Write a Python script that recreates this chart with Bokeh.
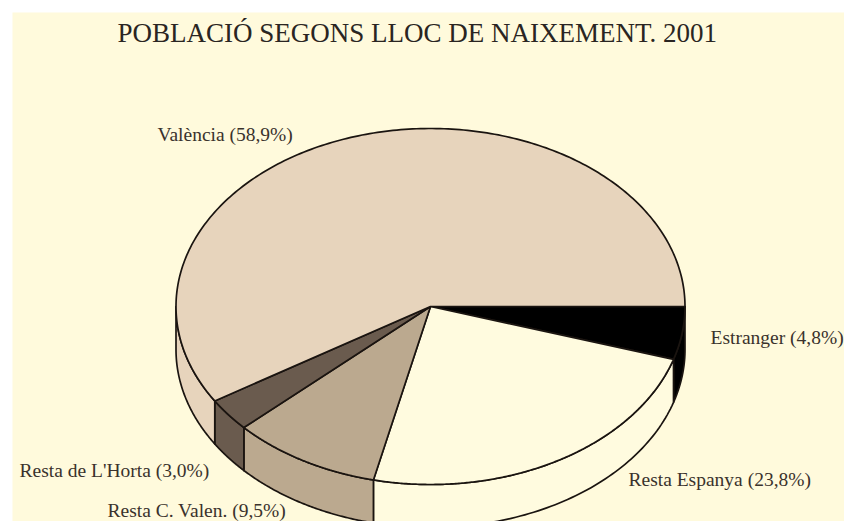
import numpy as np
from bokeh.plotting import figure
from bokeh.models import Range1d, ColumnDataSource
from bokeh.core.properties import value
from bokeh.embed import file_html
from bokeh.resources import INLINE

title = "POBLACIÓ SEGONS LLOC DE NAIXEMENT. 2001"
categories = ["Estranger", "Resta Espanya", "Resta C. Valen.", "Resta de L'Horta", "València"]
shares = [4.8, 23.8, 9.5, 3.0, 58.9]
labels = ["Estranger (4,8%)", "Resta Espanya (23,8%)", "Resta C. Valen. (9,5%)",
          "Resta de L'Horta (3,0%)", "València (58,9%)"]
colors = ["#000000", "#FFFBDF", "#BBA98F", "#6A5B4E", "#E7D4BC"]

W, H = 844, 521
CX, CY, RX, RY, DEPTH = 430.0, 306.0, 254.5, 178.0, 43.0
BG = "#FFFADC"
INK = "#1A1410"

p = figure(width=W, height=H, output_backend="svg", toolbar_location=None,
           x_range=Range1d(0, W), y_range=Range1d(H, 0),
           min_border=0, outline_line_color=None, background_fill_color="white",
           border_fill_color="white", x_axis_type=None, y_axis_type=None)
p.grid.visible = False

p.quad(left=[12], right=[W], top=[12], bottom=[H], fill_color=BG, line_color=None)

edges = np.concatenate([[0.0], np.cumsum(shares)]) / sum(shares) * 2 * np.pi

# outer side walls (only the front half of the ellipse is visible)
for i, c in enumerate(colors):
    a, b = edges[i], min(edges[i + 1], np.pi)
    if a >= np.pi:
        continue
    t = np.linspace(a, b, 80)
    xs = CX + RX * np.cos(t)
    ys = CY + RY * np.sin(t)
    p.patch(np.r_[xs, xs[::-1]], np.r_[ys, ys[::-1] + DEPTH], fill_color=c,
            line_color=INK, line_width=1.7, line_join="round")

# top faces
for i, c in enumerate(colors):
    t = np.linspace(edges[i], edges[i + 1], 240)
    p.patch(np.r_[CX, CX + RX * np.cos(t)], np.r_[CY, CY + RY * np.sin(t)], fill_color=c,
            line_color=INK, line_width=1.7, line_join="round")

label_anchor = {
    "Estranger": (710, 337),
    "Resta Espanya": (628, 479),
    "Resta C. Valen.": (107, 510),
    "Resta de L'Horta": (19, 470),
    "València": (157, 134),
}
src = ColumnDataSource(dict(
    x=[label_anchor[c][0] for c in categories],
    y=[label_anchor[c][1] for c in categories],
    t=labels))
p.text("x", "y", text="t", source=src, text_font=value("Liberation Serif"),
       text_font_size="19.5px", text_color="#3A322C", text_baseline="middle", text_align="left")
p.text([117], [32], text=[title], text_font=value("Liberation Serif"), text_font_size="27px",
       text_color="#2A2522", text_baseline="middle", text_align="left")

open("out.html", "w").write(file_html(p, INLINE))
